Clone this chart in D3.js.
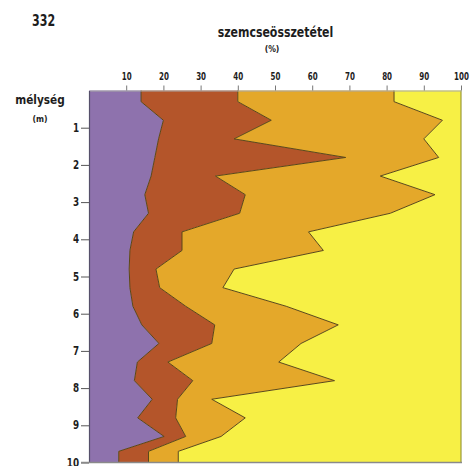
<!DOCTYPE html>
<html>
<head>
<meta charset="utf-8">
<script src="https://cdn.jsdelivr.net/npm/d3@7"></script>
<style>
  html, body { margin: 0; padding: 0; background: #fff; }
  svg { display: block; }
  text { font-family: "DejaVu Sans Condensed", "Liberation Sans Narrow", "Roboto", sans-serif; font-weight: bold; fill: #1d1d1d; }
</style>
</head>
<body>
<svg id="chart" width="474" height="466"></svg>
<script>
// Sampling depths (m)
const depths = [0, 0.3, 0.8, 1.3, 1.8, 2.3, 2.8, 3.3, 3.8, 4.3, 4.8, 5.3, 5.8, 6.3, 6.8, 7.3, 7.8, 8.3, 8.8, 9.3, 9.7, 10];

// Grain size fractions (%) at each depth
const clay     = [14, 14, 20, 18.7, 17.7, 16.7, 15, 16, 12, 11, 10.8, 11, 11.8, 14.2, 18.8, 13, 12.2, 17, 13.1, 20.2, 8, 8];
const silt     = [26, 26, 29, 20.3, 51.3, 17.3, 27, 24.5, 13, 14, 7.2, 8, 14.2, 19.6, 14.2, 8.2, 15.7, 6.8, 10.2, 5.8, 8, 8];
const fineSand = [42, 42, 46, 51, 25, 44.3, 51, 40.5, 34, 38, 21, 17, 27, 33.2, 24, 29.8, 38.1, 9.2, 18.7, 9.5, 8, 8];
const sand     = [18, 18, 5, 10, 6, 21.7, 7, 19, 41, 37, 61, 64, 47, 33, 43, 49, 34, 67, 58, 64.5, 76, 76];

const fractionKeys = ["clay", "silt", "fineSand", "sand"];
const fractionColors = ["#8e72ad", "#b4552a", "#e4a82a", "#f7f045"];

// Axis tick labels
const percentTicks = [10, 20, 30, 40, 50, 60, 70, 80, 90, 100];
const depthTicks = [1, 2, 3, 4, 5, 6, 7, 8, 9, 10];

const rows = depths.map((d, i) => ({
  depth: d, clay: clay[i], silt: silt[i], fineSand: fineSand[i], sand: sand[i]
}));

const svg = d3.select("#chart");

const x = d3.scaleLinear().domain([0, 100]).range([89, 461]);
const y = d3.scaleLinear().domain([0, 10]).range([90.5, 462.5]);

const series = d3.stack().keys(fractionKeys)(rows);

// Filled bands, one per fraction, running down the depth axis
const band = d3.area()
  .y(d => y(d.data.depth))
  .x0(d => x(d[0]))
  .x1(d => x(d[1]));

svg.append("g")
  .selectAll("path")
  .data(series)
  .join("path")
  .attr("d", band)
  .attr("fill", (d, i) => fractionColors[i]);

// Dark outlines along each cumulative boundary
const edge = d3.line()
  .x(d => x(d[1]))
  .y(d => y(d.data.depth));

svg.append("g")
  .selectAll("path")
  .data(series.slice(0, 3))
  .join("path")
  .attr("d", edge)
  .attr("fill", "none")
  .attr("stroke", "#5a4718")
  .attr("stroke-width", 1)
  .attr("stroke-linejoin", "miter");

// Right frame
svg.append("line")
  .attr("x1", x(100)).attr("x2", x(100))
  .attr("y1", y(0)).attr("y2", y(10))
  .attr("stroke", "#9b9a3a").attr("stroke-width", 1.2);

// Top percentage axis (condensed labels)
const topAxis = svg.append("g")
  .attr("transform", `translate(0,${y(0)})`)
  .call(d3.axisTop(x).tickValues(percentTicks).tickSize(5).tickSizeOuter(0).tickPadding(6));
topAxis.select(".domain").attr("stroke", "#a8a8a8");
topAxis.selectAll(".tick line").attr("stroke", "#777");
topAxis.selectAll(".tick text")
  .style("font-size", "11px")
  .attr("transform", "scale(0.72,1)");

// Left depth axis (condensed labels)
const leftScale = 0.85;
const leftAxis = svg.append("g")
  .attr("transform", `translate(${x(0)},0)`)
  .call(d3.axisLeft(y).tickValues(depthTicks).tickSize(8).tickSizeOuter(0).tickPadding(3));
leftAxis.select(".domain").attr("stroke", "#55506a").attr("stroke-width", 1.2);
leftAxis.selectAll(".tick line").attr("stroke", "#555");
leftAxis.selectAll(".tick text")
  .style("font-size", "11.5px")
  .attr("x", -10 / leftScale)
  .attr("transform", `scale(${leftScale},1)`);

// Bottom baseline
svg.append("line")
  .attr("x1", x(0) - 8).attr("x2", x(100) + 1)
  .attr("y1", y(10)).attr("y2", y(10))
  .attr("stroke", "#8a8a8a").attr("stroke-width", 1.4);

// Condensed label helper
function label(tx, ty, size, sx, anchor, str) {
  svg.append("text")
    .attr("transform", `translate(${tx},${ty}) scale(${sx},1)`)
    .attr("text-anchor", anchor)
    .style("font-size", size + "px")
    .text(str);
}

label(32, 26, 15, 0.82, "start", "332");
label(275.5, 37, 14, 0.87, "middle", "szemcseösszetétel");
label(272, 51.5, 9.5, 0.9, "middle", "(%)");
label(40, 104, 13, 0.9, "middle", "mélység");
label(40, 121.5, 9.5, 0.9, "middle", "(m)");
</script>
</body>
</html>
